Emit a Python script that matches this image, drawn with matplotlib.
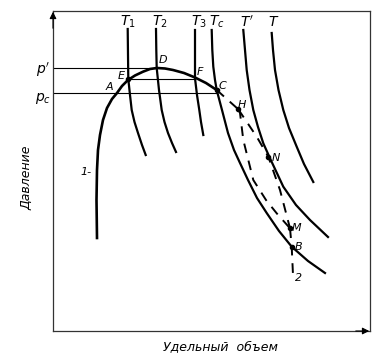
import numpy as np
import matplotlib
matplotlib.use('Agg')
import matplotlib.pyplot as plt

# schematic p-v diagram, units are arbitrary
dome_v = [44, 43.5, 44, 45, 47, 50, 54, 59, 64, 69, 75, 82, 90, 97, 104, 112, 120, 131, 142, 153, 163.7]
dome_p = [93, 131, 161, 181, 196, 211, 223, 232, 238, 245, 251, 255.5, 259.3, 262, 263, 262.5, 261, 258, 253.5, 248, 241]

t1_v = [74.7, 75, 75.3, 77, 78.7, 81.5, 85, 89, 92.7]
t1_p = [302, 276, 252, 236, 221, 209, 198, 186, 176]
t2_v = [103, 103.3, 103.7, 106, 108.7, 111.5, 115, 119, 123]
t2_p = [302, 281, 263, 241, 221, 209, 198, 188, 179]
t3_v = [142, 142, 142, 144, 146.3, 148, 150.3]
t3_p = [301, 276, 252.7, 236, 221, 209, 196]
tc_v = [158.7, 159.3, 160.3, 162, 163.7, 169, 175, 181, 187, 195, 204, 213.7, 226, 238.7, 255, 272]
tc_p = [301, 281, 264.3, 251, 241, 221, 198, 181, 168, 151, 133, 118, 100, 84.3, 70, 58]
tp_v = [190.3, 192, 193.7, 196.5, 200.3, 205, 210.3, 217, 230.3, 243, 257, 275]
tp_p = [301, 281, 261, 241, 221, 204, 187.7, 172.7, 144.3, 126, 111, 94]
t_v = [218.7, 220, 222, 225.5, 230.3, 236, 243.7, 251, 260.3]
t_p = [298, 281, 261, 241, 221, 203, 184.3, 167, 149]

# metastable paths (dashed)
ch_v = [163.7, 185.3]
ch_p = [241, 221.7]
hnm_v = [185.3, 203.7, 215.3, 227, 237]
hnm_p = [221.7, 194.3, 174.3, 141, 102.7]
hm_v = [185.3, 187, 190.3, 200.3, 213, 223.7, 237]
hm_p = [221.7, 218, 191, 151, 131, 117.7, 102.7]
mb_v = [237, 238.7, 240]
mb_p = [102.7, 84.3, 56]

p_prime = 263.3
p_c = 237.7
p_ef = 251.7

pts = {'E': (75.3, 251.7), 'D': (103.7, 263.3), 'F': (142, 252.7), 'C': (163.7, 241),
       'H': (185.3, 221.7), 'N': (215.3, 174.3), 'M': (237, 102.7), 'B': (238.7, 84.3)}
pt_labels = {'D': (110, 271), 'E': (68, 255), 'A': (56, 244), 'F': (147, 259), 'C': (169, 245),
             'H': (189, 226), 'N': (223, 173), 'M': (244, 103), 'B': (246, 84), '2': (246, 53)}
iso_names = ['$T_1$', '$T_2$', '$T_3$', '$T_c$', "$T'$", '$T$']
iso_label_v = [75, 107, 146, 164, 194, 221]

fig = plt.figure(figsize=(3.76, 3.55), dpi=100)
ax = fig.add_axes([53/376, 24/355, 317/376, 320/355])
ax.set_xlim(0, 317)
ax.set_ylim(0, 320)
ax.set_xticks([])
ax.set_yticks([])
for s in ax.spines.values():
    s.set_linewidth(0.9)
    s.set_color('#333333')

lw = 1.6
ax.plot(dome_v, dome_p, 'k-', lw=lw + 0.3)
for v, p in [(t1_v, t1_p), (t2_v, t2_p), (t3_v, t3_p), (tc_v, tc_p), (tp_v, tp_p), (t_v, t_p)]:
    ax.plot(v, p, 'k-', lw=lw)

for v, p in [(ch_v, ch_p), (hnm_v, hnm_p), (hm_v, hm_p), (mb_v, mb_p)]:
    ax.plot(v, p, 'k--', lw=1.4, dashes=(5, 4))

# horizontal lines p', pc and E-F
ax.plot([0, 103.7], [p_prime, p_prime], 'k-', lw=0.8)
ax.plot([0, 163.7], [p_c, p_c], 'k-', lw=0.8)
ax.plot([75.3, 142], [p_ef, p_ef], 'k-', lw=0.8)

for k in ['E', 'C', 'H', 'N', 'M', 'B']:
    ax.plot(*pts[k], 'ko', ms=3)

for k, (x, y) in pt_labels.items():
    ax.text(x, y, k, fontsize=8, style='italic', ha='center', va='center')
ax.text(33, 159, '1-', fontsize=8, style='italic', ha='center', va='center')

for name, v in zip(iso_names, iso_label_v):
    ax.text(v, 309, name, fontsize=10, ha='center', va='center')

ax.text(-10, 261, "$p'$", fontsize=10, ha='center', va='center')
ax.text(-10, 233, '$p_c$', fontsize=10, ha='center', va='center')

# axis arrows
ax.annotate('', xy=(0, 322), xytext=(0, 300), arrowprops=dict(arrowstyle='-|>', color='k', lw=0.8), annotation_clip=False)
ax.annotate('', xy=(319, 0), xytext=(300, 0), arrowprops=dict(arrowstyle='-|>', color='k', lw=0.8), annotation_clip=False)

fig.text(220/376, 1 - 347/355, 'Удельный  объем', fontsize=9, style='italic', ha='center', va='center')
fig.text(27/376, 1 - 178/355, 'Давление', fontsize=9, style='italic', rotation=90, ha='center', va='center')

fig.savefig('out.png', dpi=100)
